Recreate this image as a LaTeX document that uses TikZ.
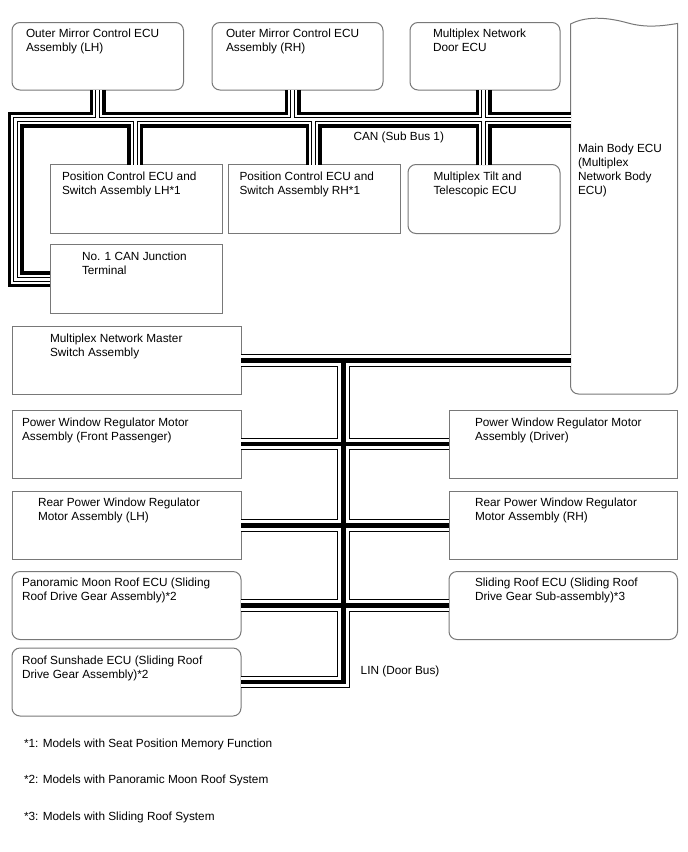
\documentclass[tikz,border=0pt]{standalone}
\usepackage{fontspec}
\setmainfont{Liberation Sans}
\definecolor{boxgray}{rgb}{0.47,0.47,0.47}
\newcommand\fsz{\fontsize{11.8}{14}\selectfont}
\tikzset{
  boxsq/.style={draw=boxgray, line width=1pt, rectangle, anchor=north west, inner sep=0pt, outer sep=0pt},
  boxrd/.style={boxsq, rounded corners=8pt},
  lbl/.style={anchor=north west, inner sep=0pt, outer sep=0pt, align=left, font=\fsz},
  canA/.style={line width=16pt, black, line join=miter, line cap=butt},
  canB/.style={line width=9pt, white, line join=miter, line cap=butt},
  canC/.style={line width=5pt, black, line join=miter, line cap=butt},
  canD/.style={line width=3pt, white, line join=miter, line cap=butt},
  linA/.style={line width=12.5pt, black, line join=miter, line cap=butt},
  linB/.style={line width=10.5pt, white, line join=miter, line cap=butt},
  linC/.style={line width=4.5pt, black, line join=miter, line cap=butt},
}
\newcommand\canwires[1]{%
  \draw[#1] (mb.west |- cTL) -- (cTL) -- (cBL) -- (cBL -| jt.west);
  \draw[#1] (b1.south) -- (b1.south |- cTL);
  \draw[#1] (b2.south -| xtwo) -- (xtwo |- cTL);
  \draw[#1] (b3.south -| xthree) -- (tilt.north -| xthree);
  \draw[#1] (pl.north -| xfour) -- (xfour |- cTL);
  \draw[#1] (pr.north -| xfive) -- (xfive |- cTL);
}
\newcommand\linwires[1]{%
  \draw[#1] (ms.east) -- (mb.west |- ms.east);
  \draw[#1] (lT) -- (lB) -- (ss.east);
  \draw[#1] (fp.east) -- (dr.west);
  \draw[#1] (rl.east) -- (rr.west);
  \draw[#1] (pm.east) -- (sr.west);
}
\begin{document}
\begin{tikzpicture}[x=1pt, y=-1pt]
\useasboundingbox (0,0) rectangle (688,852);
\fill[white] (0,0) rectangle (688,852);

% boxes (nodes)
\node[boxrd, minimum width=171.5pt, minimum height=67.5pt] (b1) at (12,22.5) {};
\node[boxrd, minimum width=171pt, minimum height=67.5pt] (b2) at (212,22.5) {};
\node[boxrd, minimum width=150pt, minimum height=67.5pt] (b3) at (410,22.5) {};
\node[boxsq, minimum width=172pt, minimum height=69pt] (pl) at (50,164.5) {};
\node[boxsq, minimum width=172pt, minimum height=69pt] (pr) at (228.5,164.5) {};
\node[boxrd, minimum width=152pt, minimum height=69pt] (tilt) at (408,164.5) {};
\node[boxsq, minimum width=172pt, minimum height=69pt] (jt) at (50,244.5) {};
\node[boxsq, minimum width=229pt, minimum height=67.5pt] (ms) at (12,326.5) {};
\node[boxsq, minimum width=229pt, minimum height=68pt] (fp) at (12,410) {};
\node[boxsq, minimum width=228.5pt, minimum height=68pt] (dr) at (449,410) {};
\node[boxsq, minimum width=229pt, minimum height=68pt] (rl) at (12,491.5) {};
\node[boxsq, minimum width=228.5pt, minimum height=68pt] (rr) at (449,491.5) {};
\node[boxrd, minimum width=229pt, minimum height=68pt] (pm) at (12,571.5) {};
\node[boxrd, minimum width=228.5pt, minimum height=68pt] (sr) at (449,571.5) {};
\node[boxrd, minimum width=229pt, minimum height=68pt] (ss) at (12,648) {};
\node[anchor=north west, inner sep=0pt, outer sep=0pt, minimum width=107pt, minimum height=370pt] (mb) at (570.5,24) {};

% main body ECU outline (wavy top)
\draw[boxgray, line width=1pt] (570.5,24) .. controls (588,15) and (610,18) .. (628,23)
  .. controls (646,28) and (662,26) .. (677.5,23.5)
  -- (677.5,386) .. controls (677.5,390.4) and (673.9,394) .. (669.5,394)
  -- (578.5,394) .. controls (574.1,394) and (570.5,390.4) .. (570.5,386) -- cycle;

% bus geometry
\coordinate (cTL) at (15.5,119.5);
\coordinate (cBL) at (cTL |- jt.west);
\coordinate (xtwo) at (292.5,0);
\coordinate (xthree) at (483.5,0);
\coordinate (xfour) at (135,0);
\coordinate (xfive) at (313.5,0);
\coordinate (lT) at (343.7,0 |- ms.east);
\coordinate (lB) at (lT |- ss.east);

% CAN bus (layered)
\canwires{canA}
\canwires{canB}
\canwires{canC}
\canwires{canD}
% LIN bus (layered)
\linwires{linA}
\linwires{linB}
\linwires{linC}

% labels
\node[lbl] (t1) at (26,27.2) {\strut Outer Mirror Control ECU\\Assembly (LH)};
\node[lbl] (t2) at (226,27.2) {\strut Outer Mirror Control ECU\\Assembly (RH)};
\node[lbl] (t3) at (433,27.2) {\strut Multiplex Network\\Door ECU};
\node[lbl] (tmb) at (578,142.2) {\strut Main Body ECU\\(Multiplex\\Network Body\\ECU)};
\node[lbl] (tpl) at (62,170.9) {\strut Position Control ECU and\\Switch Assembly LH*1};
\node[lbl] (tpr) at (239.5,170.9) {\strut Position Control ECU and\\Switch Assembly RH*1};
\node[lbl] (ttilt) at (433.5,170.9) {\strut Multiplex Tilt and\\Telescopic ECU};
\node[lbl] (tcan) at (353.5,130.9) {\strut CAN (Sub Bus 1)};
\node[lbl] (tjt) at (82,250.9) {\strut No. 1 CAN Junction\\Terminal};
\node[lbl] (tms) at (50,332.2) {\strut Multiplex Network Master\\Switch Assembly};
\node[lbl] (tfp) at (22,416.2) {\strut Power Window Regulator Motor\\Assembly (Front Passenger)};
\node[lbl] (tdr) at (475,416.2) {\strut Power Window Regulator Motor\\Assembly (Driver)};
\node[lbl] (trl) at (38,496.7) {\strut Rear Power Window Regulator\\Motor Assembly (LH)};
\node[lbl] (trr) at (475,496.7) {\strut Rear Power Window Regulator\\Motor Assembly (RH)};
\node[lbl] (tpm) at (22,576.7) {\strut Panoramic Moon Roof ECU (Sliding\\Roof Drive Gear Assembly)*2};
\node[lbl] (tsr) at (475,576.7) {\strut Sliding Roof ECU (Sliding Roof\\Drive Gear Sub-assembly)*3};
\node[lbl] (tss) at (22,654.2) {\strut Roof Sunshade ECU (Sliding Roof\\Drive Gear Assembly)*2};
\node[lbl] (tlin) at (360.7,664.2) {\strut LIN (Door Bus)};
\node[lbl] (f1) at (24,737.2) {\strut *1: Models with Seat Position Memory Function};
\node[lbl] (f2) at (24,773.2) {\strut *2: Models with Panoramic Moon Roof System};
\node[lbl] (f3) at (24,810.2) {\strut *3: Models with Sliding Roof System};
\end{tikzpicture}
\end{document}
